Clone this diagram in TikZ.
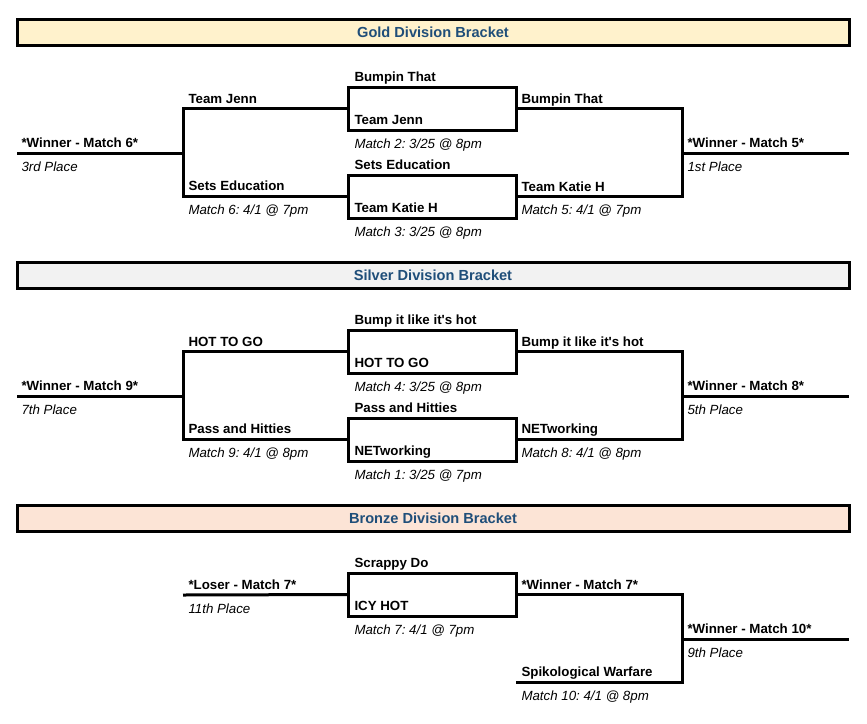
\documentclass[tikz,border=0pt]{standalone}
\usepackage{fontspec}
\setmainfont{Liberation Sans}
\frenchspacing
\definecolor{titleblue}{RGB}{31,78,121}
\definecolor{goldfill}{RGB}{255,242,204}
\definecolor{silverfill}{RGB}{242,242,242}
\definecolor{bronzefill}{RGB}{252,228,214}
\newcommand\brkfont{\fontsize{13.3pt}{16pt}\selectfont}
\newcommand\headfont{\fontsize{14.6pt}{17pt}\selectfont}
\tikzset{every picture/.style={line width=3pt},
  team/.style={font=\brkfont\bfseries, anchor=base west, inner sep=0pt},
  sched/.style={font=\brkfont\itshape, anchor=base west, inner sep=0pt},
  matchbox/.style={draw, line width=3pt, minimum width=168pt, minimum height=43pt, inner sep=0pt, outer sep=0pt},
  header/.style={draw, line width=3pt, minimum width=832pt, minimum height=26pt, inner sep=0pt, outer sep=0pt, text=titleblue, font=\headfont\bfseries},
  bline/.style={line width=3pt}}

\begin{document}
\begin{tikzpicture}[x=1pt,y=1pt,yscale=-1,xscale=1]
\useasboundingbox (0,0) rectangle (867,723);

% Gold Division
\node[header, fill=goldfill] (gHead) at (433,32) {Gold Division Bracket};
\node[matchbox] (gM2) at (432,108.5) {};
\node[matchbox] (gM3) at (432,196.5) {};
\coordinate (gA) at (17,153);
\coordinate (gB) at (183,153);
\coordinate (gC) at (682,153);
\coordinate (gD) at (849,153);
\draw[bline] (gA) -- (gB);
\draw[bline] (gM2.west) -| (gB) |- (gM3.west);
\draw[bline] (gM2.east) -| (gC) |- (gM3.east);
\draw[bline] (gC) -- (gD);
% Text Node
\node[team] (gWin6) at (20,147) {*Winner - Match 6*};
\node[sched] (gThird) at (20,171) {3rd Place};
\node[team] (gJenn) at (187,103) {Team Jenn};
\node[team] (gSets) at (187,190) {Sets Education};
\node[sched] (gMatch6) at (187,214) {Match 6: 4/1 @ 7pm};
\node[team] (gBumpA) at (353,81) {Bumpin That};
\node[team] (gJennA) at (353,124) {Team Jenn};
\node[sched] (gMatch2) at (353,148) {Match 2: 3/25 @ 8pm};
\node[team] (gSetsA) at (353,169) {Sets Education};
\node[team] (gKatieA) at (353,212) {Team Katie H};
\node[sched] (gMatch3) at (353,236) {Match 3: 3/25 @ 8pm};
\node[team] (gBump) at (520,103) {Bumpin That};
\node[team] (gKatie) at (520,191) {Team Katie H};
\node[sched] (gMatch5) at (520,214) {Match 5: 4/1 @ 7pm};
\node[team] (gWin5) at (686,147) {*Winner - Match 5*};
\node[sched] (gFirst) at (686,171) {1st Place};

% Silver Division
\node[header, fill=silverfill] (sHead) at (433,275) {Silver Division Bracket};
\node[matchbox] (sM4) at (432,351.5) {};
\node[matchbox] (sM1) at (432,439.5) {};
\coordinate (sA) at (17,396);
\coordinate (sB) at (183,396);
\coordinate (sC) at (682,396);
\coordinate (sD) at (849,396);
\draw[bline] (sA) -- (sB);
\draw[bline] (sM4.west) -| (sB) |- (sM1.west);
\draw[bline] (sM4.east) -| (sC) |- (sM1.east);
\draw[bline] (sC) -- (sD);
% Text Node
\node[team] (sWin9) at (20,390) {*Winner - Match 9*};
\node[sched] (sSeventh) at (20,414) {7th Place};
\node[team] (sHot) at (187,346) {HOT TO GO};
\node[team] (sPass) at (187,433) {Pass and Hitties};
\node[sched] (sMatch9) at (187,457) {Match 9: 4/1 @ 8pm};
\node[team] (sBumpA) at (353,324) {Bump it like it\textquotesingle s hot};
\node[team] (sHotA) at (353,367) {HOT TO GO};
\node[sched] (sMatch4) at (353,391) {Match 4: 3/25 @ 8pm};
\node[team] (sPassA) at (353,412) {Pass and Hitties};
\node[team] (sNetA) at (353,455) {NETworking};
\node[sched] (sMatch1) at (353,479) {Match 1: 3/25 @ 7pm};
\node[team] (sBump) at (520,346) {Bump it like it\textquotesingle s hot};
\node[team] (sNet) at (520,433) {NETworking};
\node[sched] (sMatch8) at (520,457) {Match 8: 4/1 @ 8pm};
\node[team] (sWin8) at (686,390) {*Winner - Match 8*};
\node[sched] (sFifth) at (686,414) {5th Place};

% Bronze Division
\node[header, fill=bronzefill] (bHead) at (433,518) {Bronze Division Bracket};
\node[matchbox] (bM7) at (432,594.5) {};
\coordinate (bA) at (183,595);
\coordinate (bC) at (682,639);
\coordinate (bD) at (849,639);
\coordinate (bE) at (516,682);
\draw[bline] (bA) -- (bM7.west);
\draw[bline] (bM7.east) -| (bC) |- (bE);
\draw[bline] (bC) -- (bD);
% Text Node
\node[team] (bLose7) at (187,589) {*Loser - Match 7*};
\node[sched] (bEleventh) at (187,613) {11th Place};
\node[team] (bScrappy) at (353,567) {Scrappy Do};
\node[team] (bIcy) at (353,610) {ICY HOT};
\node[sched] (bMatch7) at (353,634) {Match 7: 4/1 @ 7pm};
\node[team] (bWin7) at (520,589) {*Winner - Match 7*};
\node[team] (bSpiko) at (520,676) {Spikological Warfare};
\node[sched] (bMatch10) at (520,700) {Match 10: 4/1 @ 8pm};
\node[team] (bWin10) at (686,633) {*Winner - Match 10*};
\node[sched] (bNinth) at (686,657) {9th Place};

\end{tikzpicture}
\end{document}
